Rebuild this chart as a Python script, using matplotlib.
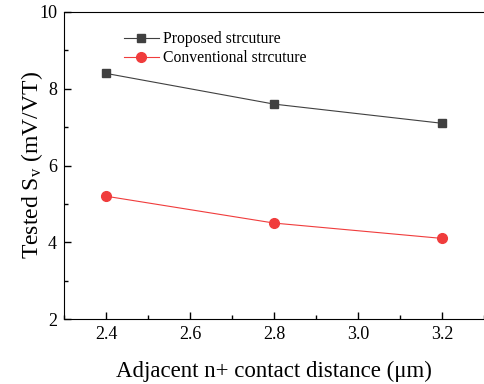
import matplotlib
matplotlib.use('Agg')
import matplotlib.pyplot as plt
from matplotlib.ticker import MultipleLocator

# Data
distance = [2.4, 2.8, 3.2]
proposed = [8.4, 7.6, 7.1]
conventional = [5.2, 4.5, 4.1]

plt.rcParams['font.family'] = ['Liberation Serif', 'DejaVu Serif']
plt.rcParams['mathtext.fontset'] = 'stix'

fig = plt.figure(figsize=(4.84, 3.84), dpi=100)
ax = fig.add_axes([64/484, 1 - 319/384, 1 - 64/484, 307/384])

ax.plot(distance, proposed, color='#404040', lw=0.8, marker='s', ms=6,
        mfc='#404040', mec='#404040', label='Proposed strcuture')
ax.plot(distance, conventional, color='#f03c3c', lw=0.8, marker='o', ms=7,
        mfc='#f03c3c', mec='#f03c3c', label='Conventional strcuture')

ax.set_xlim(2.3, 3.3)
ax.set_ylim(2, 10)
ax.xaxis.set_major_locator(MultipleLocator(0.2))
ax.xaxis.set_minor_locator(MultipleLocator(0.1))
ax.yaxis.set_major_locator(MultipleLocator(2))
ax.yaxis.set_minor_locator(MultipleLocator(1))
ax.tick_params(which='both', direction='in', labelsize=13, width=1)
ax.tick_params(which='major', length=5, pad=5)
ax.tick_params(which='minor', length=3)
ax.spines['right'].set_visible(False)

ax.set_xlabel('Adjacent n+ contact distance (μm)', fontsize=16.5, labelpad=13)
ax.set_ylabel('Tested S$_\\mathregular{v}$ (mV/VT)', fontsize=17, labelpad=-4)

ax.legend(loc='upper left', bbox_to_anchor=(0.143, 0.937), frameon=False,
          fontsize=11.3, handlelength=2.2, handletextpad=0.25,
          labelspacing=0.2, borderpad=0, borderaxespad=0)

fig.savefig('out.png', dpi=100)
